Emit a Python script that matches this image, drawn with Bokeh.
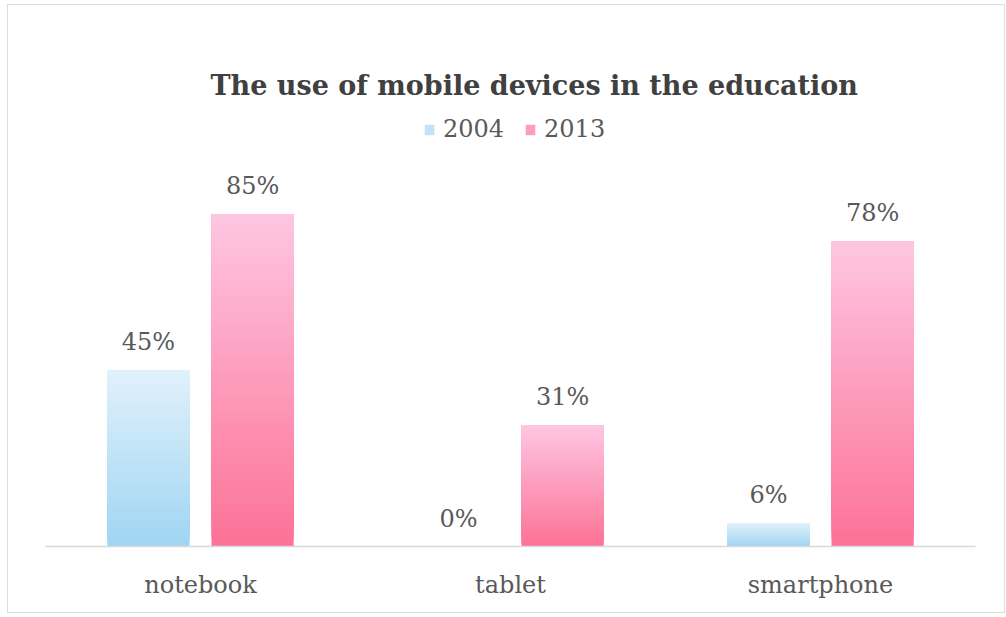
import numpy as np
from bokeh.plotting import figure
from bokeh.models import (ColumnDataSource, FactorRange, Range1d, Legend, LegendItem)
from bokeh.transform import dodge
from bokeh.embed import file_html
from bokeh.resources import INLINE

categories = ["notebook", "tablet", "smartphone"]
years = ["2004", "2013"]
values_2004 = [45, 0, 6]
values_2013 = [85, 31, 78]

TITLE = "The use of mobile devices in the education"
SERIF = "DejaVu Serif"
TXT = "#595959"

# gradient colours (bottom, top)
grad = {
    "2004": ("#9fd5f3", "#e0f1fa"),
    "2013": ("#fc7296", "#fec6e2"),
}

def hex2rgb(h):
    h = h.lstrip("#")
    return np.array([int(h[i:i + 2], 16) for i in (0, 2, 4)], dtype=float)

def rgb2hex(c):
    return "#%02x%02x%02x" % tuple(int(round(v)) for v in c)

N = 40

def slices(values, year):
    c0, c1 = hex2rgb(grad[year][0]), hex2rgb(grad[year][1])
    xs, bottoms, tops, cols = [], [], [], []
    for cat, v in zip(categories, values):
        if v <= 0:
            continue
        for i in range(N):
            t = (i + 0.5) / N
            xs.append(cat)
            bottoms.append(v * i / N)
            tops.append(v)
            cols.append(rgb2hex(c0 * (1 - t) + c1 * t))
    return ColumnDataSource(dict(x=xs, bottom=bottoms, top=tops, color=cols))

p = figure(width=996, height=607, x_range=FactorRange(factors=categories, range_padding=0),
           y_range=Range1d(0, 113.5), output_backend="svg", toolbar_location=None,
           min_border_left=37, min_border_right=29, min_border_top=97, min_border_bottom=66)
p.styles = {"margin-left": "8px", "margin-top": "5px",
            "outline": "1px solid #dcdcdc"}

p.title.text = TITLE
p.title.text_font = SERIF
p.title.text_font_size = "27px"
p.title.text_font_style = "bold"
p.title.text_color = "#404040"
p.title.align = "left"
p.title.offset = 165
p.title.standoff = 3

off = 0.168
bw = 0.265
src04 = slices(values_2004, "2004")
src13 = slices(values_2013, "2013")
r04 = p.vbar(x=dodge("x", -off, range=p.x_range), bottom="bottom", top="top", width=bw,
             fill_color="color", line_color=None, source=src04)
r13 = p.vbar(x=dodge("x", off, range=p.x_range), bottom="bottom", top="top", width=bw,
             fill_color="color", line_color=None, source=src13)

# value labels
lab04 = ColumnDataSource(dict(x=categories, y=values_2004, t=[f"{v}%" for v in values_2004]))
lab13 = ColumnDataSource(dict(x=categories, y=values_2013, t=[f"{v}%" for v in values_2013]))
for s, o in ((lab04, -off), (lab13, off)):
    p.text(x=dodge("x", o, range=p.x_range), y="y", text="t", source=s,
           text_align="center", text_baseline="bottom", y_offset=-14,
           text_font_size="24px", text_color=TXT, text_font={"value": SERIF})

legend = Legend(items=[LegendItem(label="2004", renderers=[r04], index=N // 2),
                       LegendItem(label="2013", renderers=[r13], index=N // 2)],
                orientation="horizontal", location=(378, 444 - 41),
                glyph_width=12, glyph_height=13, label_text_font=SERIF,
                label_text_font_size="24px", label_text_color=TXT, label_standoff=8,
                spacing=20, padding=0, margin=0, border_line_color=None,
                background_fill_alpha=0, label_height=26)
p.add_layout(legend)

p.yaxis.visible = False
p.xgrid.grid_line_color = None
p.ygrid.grid_line_color = None
p.outline_line_color = None
p.xaxis.axis_line_color = "#d9d9d9"
p.xaxis.axis_line_width = 1.5
p.xaxis.major_tick_line_color = None
p.xaxis.major_tick_out = 0
p.xaxis.major_tick_in = 0
p.xaxis.major_label_standoff = 24
p.xaxis.major_label_text_font = SERIF
p.xaxis.major_label_text_font_size = "24px"
p.xaxis.major_label_text_color = TXT

open("out.html", "w").write(file_html(p, INLINE))
